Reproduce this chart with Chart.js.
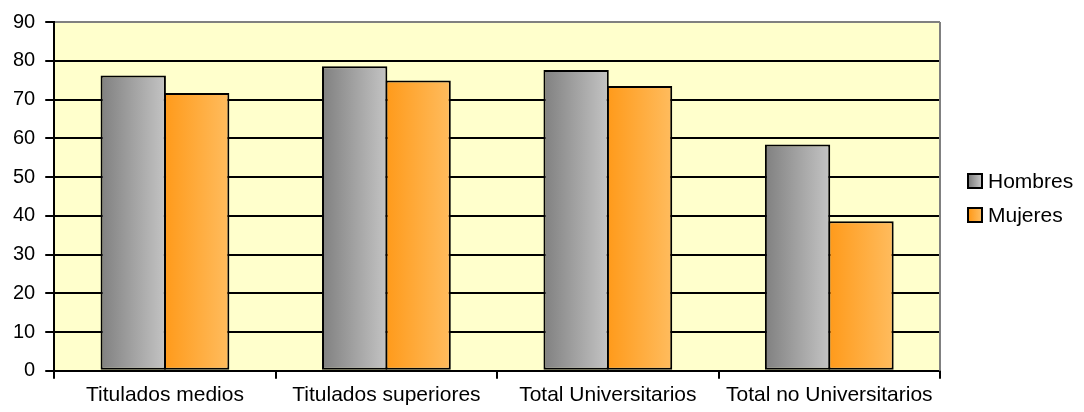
<!DOCTYPE html>
<html lang="es">
<head>
  <meta charset="UTF-8">
  <title>Hombres y Mujeres por titulación</title>
  <script src="https://cdn.jsdelivr.net/npm/chart.js"></script>
  <style>
    body { margin: 0; background: #fff; font-family: "Liberation Sans", Arial, sans-serif; }
    .wrap { position: relative; width: 1084px; height: 412px; }
    .legend { position: absolute; left: 967px; top: 164px; }
    .legend-item { display: flex; align-items: center; height: 34px; font-size: 21px; color: #000; }
    .legend-box { width: 12px; height: 12px; border: 2px solid #000; margin-right: 5px; }
  </style>
</head>
<body>
  <div class="wrap">
    <canvas id="chart"></canvas>
    <div class="legend" id="legend"></div>
  </div>

  <script>
    // Datos
    const categorias = ['Titulados medios', 'Titulados superiores', 'Total Universitarios', 'Total no Universitarios'];
    const series = ['Hombres', 'Mujeres'];
    const hombres = [76.2, 78.6, 77.6, 58.4];
    const mujeres = [71.7, 74.9, 73.5, 38.6];
    const yTicks = [0, 10, 20, 30, 40, 50, 60, 70, 80, 90];

    // Colores del degradado (oscuro -> claro)
    const tonos = [
      ['#808080', '#C4C4C4'],
      ['#FF9A1A', '#FFBC5E']
    ];
    const catPct = 0.573;
    const barPct = 1.03; // las barras se solapan un poco y comparten el borde

    function degradado(ctx) {
      const chart = ctx.chart;
      const par = tonos[ctx.datasetIndex];
      const xs = chart.scales.x;
      if (!chart.chartArea || !xs || ctx.dataIndex === undefined) return par[0];
      const centro = xs.getPixelForValue(ctx.dataIndex);
      const hueco = (xs.right - xs.left) / categorias.length * catPct / 2;
      const w = hueco * barPct;
      const c = centro + (ctx.datasetIndex === 0 ? -hueco / 2 : hueco / 2);
      const g = chart.ctx.createLinearGradient(c - w / 2, 0, c + w / 2, 0);
      g.addColorStop(0, par[0]);
      g.addColorStop(1, par[1]);
      return g;
    }

    // Fondo amarillo y borde gris del área de trazado
    const fondoPlugin = {
      id: 'fondo',
      beforeDraw(chart) {
        const a = chart.chartArea, c = chart.ctx;
        c.save();
        c.fillStyle = '#FFFFCC';
        c.fillRect(a.left, a.top, a.right - a.left, a.bottom - a.top);
        c.restore();
      },
      afterDraw(chart) {
        const a = chart.chartArea, c = chart.ctx;
        c.save();
        c.strokeStyle = '#808080';
        c.lineWidth = 2;
        c.beginPath();
        c.moveTo(a.right, a.top);
        c.lineTo(a.right, a.bottom);
        c.stroke();
        c.restore();
      }
    };

    new Chart(document.getElementById('chart').getContext('2d'), {
      type: 'bar',
      data: {
        labels: categorias,
        datasets: [
          { label: series[0], data: hombres, backgroundColor: degradado, borderColor: '#000', borderWidth: 2, borderSkipped: false },
          { label: series[1], data: mujeres, backgroundColor: degradado, borderColor: '#000', borderWidth: 2, borderSkipped: false }
        ]
      },
      options: {
        responsive: true,
        maintainAspectRatio: false,
        animation: false,
        categoryPercentage: catPct,
        barPercentage: barPct,
        layout: { padding: { left: 3, right: 144, top: 9, bottom: 0 } },
        plugins: {
          legend: { display: false },
          tooltip: { enabled: false }
        },
        scales: {
          x: {
            grid: { drawOnChartArea: false, color: '#000', lineWidth: 2, tickLength: 8 },
            border: { color: '#000', width: 2 },
            ticks: { color: '#000', font: { family: 'Liberation Sans', size: 21 }, padding: 4, maxRotation: 0 }
          },
          y: {
            min: 0,
            max: 90,
            afterBuildTicks: axis => { axis.ticks = yTicks.map(v => ({ value: v })); },
            grid: {
              color: c => (c.tick && c.tick.value === 90 ? '#808080' : '#000'),
              tickColor: '#000',
              lineWidth: 2,
              tickLength: 9
            },
            border: { color: '#000', width: 2 },
            ticks: { color: '#000', font: { family: 'Liberation Sans', size: 20 }, padding: 10 }
          }
        }
      },
      plugins: [fondoPlugin]
    });

    // Leyenda
    const leyenda = document.getElementById('legend');
    series.forEach((nombre, i) => {
      const item = document.createElement('div');
      item.className = 'legend-item';
      item.innerHTML = '<span class="legend-box" style="background:linear-gradient(to right,' +
        tonos[i][0] + ',' + tonos[i][1] + ')"></span>' + nombre;
      leyenda.appendChild(item);
    });
  </script>
</body>
</html>
